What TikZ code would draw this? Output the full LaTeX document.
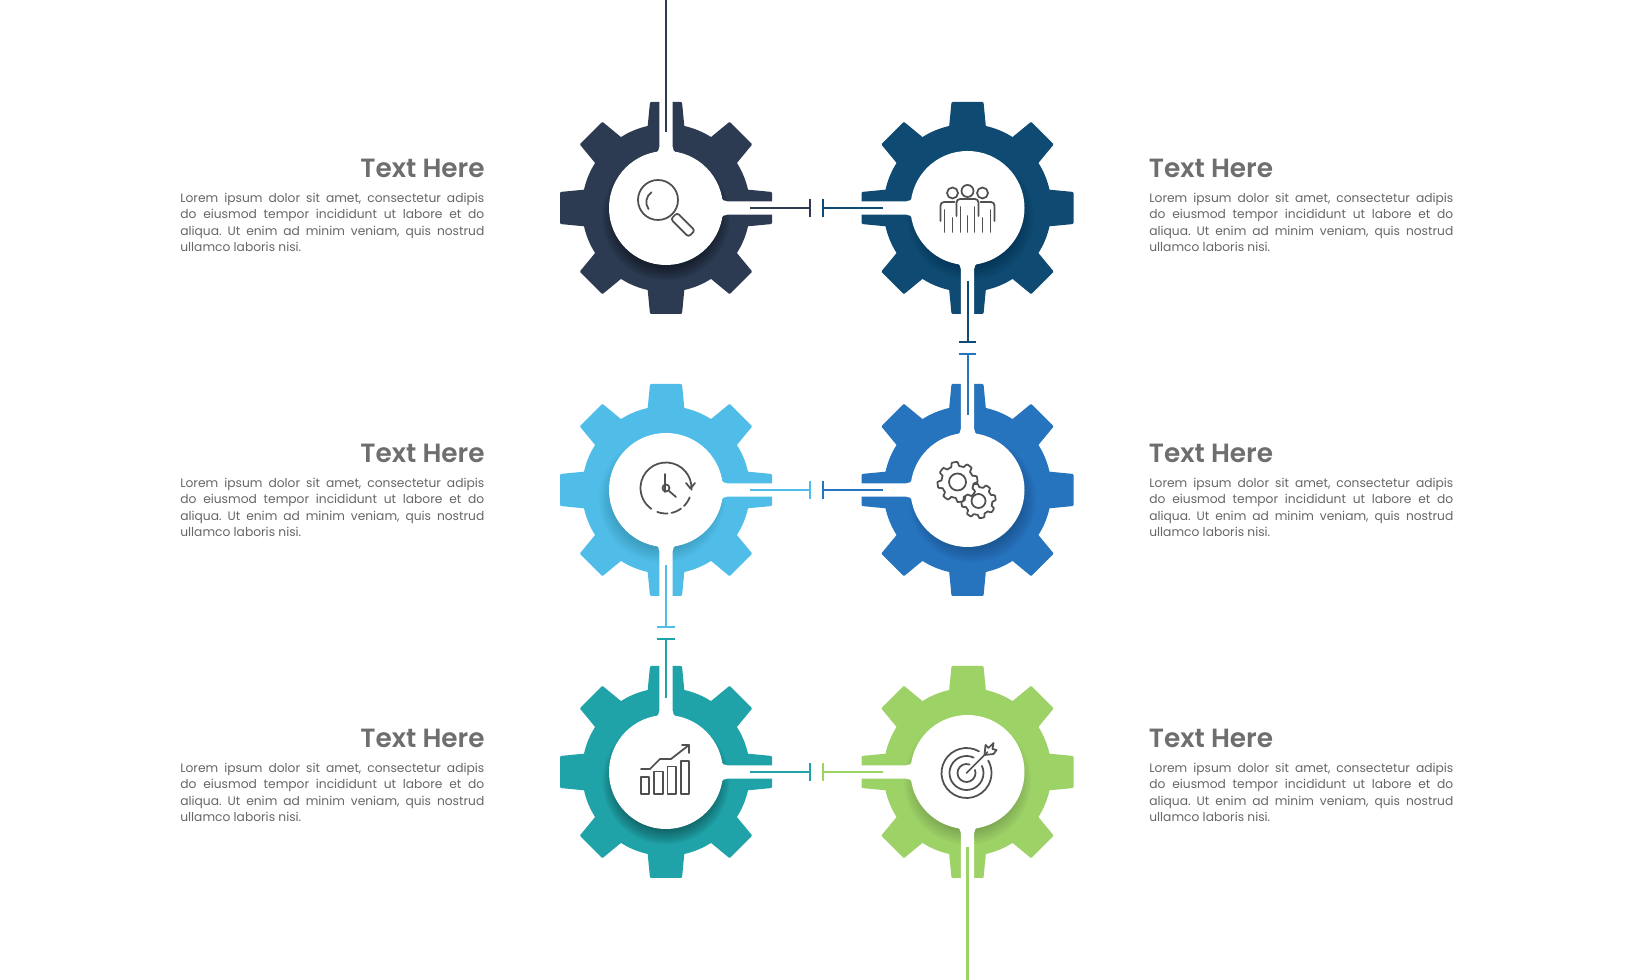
\documentclass[tikz,border=0pt]{standalone}
\usepackage{fontspec}
\setmainfont{Poppins}
\newfontfamily\headfont{Poppins SemiBold}
\usetikzlibrary{arrows.meta}

\definecolor{navy}{HTML}{2C3A52}
\definecolor{petrol}{HTML}{0F4A73}
\definecolor{sky}{HTML}{50BDE9}
\definecolor{royal}{HTML}{2673BE}
\definecolor{teal}{HTML}{20A3A8}
\definecolor{lime}{HTML}{9DD267}
\definecolor{headgray}{HTML}{6E6E6E}
\definecolor{bodygray}{HTML}{666666}
\definecolor{icongray}{HTML}{505050}

\tikzset{
    headtext/.style={inner sep=0pt, text=headgray, font=\fontsize{15}{18}\selectfont\headfont},
    bodytext/.style={inner sep=0pt, text=bodygray, text width=173pt, align=justify,
        font=\fontsize{6.98}{9.24}\selectfont\frenchspacing},
    iconline/.style={draw=icongray, line width=1pt, line cap=round, line join=round},
    link/.style={line width=1.15pt, -{Bar[width=10pt,line width=1.15pt]}},
}

\newcommand{\gearwheel}[6]{
    \foreach \a in {0,45,...,315}
        \fill[#3, shift={(#1,#2)}, rotate=\a, rounded corners=0.6pt]
            (80,-18.5) -- (106,-16) -- (106,16) -- (80,18.5) -- cycle;
    \fill[#3] (#1,#2) circle (84);
    \foreach \r in {50,51.5,...,63.5}
        \fill[black, opacity=#5] (#1+#6,#2-9) circle (\r);
    \foreach \a in {#4}
        \fill[white, shift={(#1,#2)}, rotate=\a]
            (45,-10.5) -- (54.5,-10.5) .. controls (57,-8) and (58,-6.7) .. (61,-6.7) -- (112,-6.7)
            -- (112,6.7) -- (61,6.7) .. controls (58,6.7) and (57,8) .. (54.5,10.5) -- (45,10.5) -- cycle;
    \fill[white] (#1,#2) circle (57);
}

\newcommand{\loremtext}{Lorem ipsum dolor sit amet, consectetur adipis\linebreak
    do eiusmod tempor incididunt ut labore et do\linebreak
    aliqua. Ut enim ad minim veniam, quis nostrud\linebreak
    ullamco laboris nisi.}

\begin{document}
\begin{tikzpicture}[x=0.02cm, y=0.02cm]
    \useasboundingbox (0,0) rectangle (1633,980);
    \fill[white] (0,0) rectangle (1633,980);

    \gearwheel{666}{772}{navy}{90,0}{0.05}{0}
    \gearwheel{967.5}{772}{petrol}{180,270}{0.02}{3}
    \gearwheel{666}{490}{sky}{0,270}{0.015}{-4}
    \gearwheel{967.5}{490}{royal}{90,180}{0.02}{5}
    \gearwheel{666}{208}{teal}{90,0}{0.04}{0}
    \gearwheel{967.5}{208}{lime}{180,270}{0.018}{0}

    \coordinate (startTop) at (666,980);
    \coordinate (startEnd) at (666,848);
    \coordinate (navyRight) at (750,772);
    \coordinate (navyBar) at (811,772);
    \coordinate (petrolLeft) at (883,772);
    \coordinate (petrolBarL) at (822,772);
    \coordinate (petrolDown) at (967.5,699);
    \coordinate (petrolBar) at (967.5,637);
    \coordinate (royalUp) at (967.5,565);
    \coordinate (royalBar) at (967.5,627);
    \coordinate (royalLeft) at (883,490);
    \coordinate (royalBarL) at (822,490);
    \coordinate (skyRight) at (750,490);
    \coordinate (skyBar) at (811,490);
    \coordinate (skyDown) at (666,415);
    \coordinate (skyBarD) at (666,352);
    \coordinate (tealUp) at (666,282);
    \coordinate (tealBarU) at (666,342);
    \coordinate (tealRight) at (750,208);
    \coordinate (tealBar) at (811,208);
    \coordinate (limeLeft) at (883,208);
    \coordinate (limeBar) at (822,208);
    \coordinate (limeDown) at (967.5,133);
    \coordinate (limeEnd) at (967.5,0);

    \draw[navy, line width=1.3pt] (startTop) -- (startEnd);
    \draw[link, navy] (navyRight) -- (navyBar);
    \draw[link, petrol] (petrolLeft) -- (petrolBarL);
    \draw[link, petrol] (petrolDown) -- (petrolBar);
    \draw[link, royal] (royalUp) -- (royalBar);
    \draw[link, royal] (royalLeft) -- (royalBarL);
    \draw[link, sky] (skyRight) -- (skyBar);
    \draw[link, sky] (skyDown) -- (skyBarD);
    \draw[link, teal] (tealUp) -- (tealBarU);
    \draw[link, teal] (tealRight) -- (tealBar);
    \draw[link, lime] (limeLeft) -- (limeBar);
    \draw[lime, line width=1.3pt] (limeDown) -- (limeEnd);

    \begin{scope}[shift={(666,772)}]
        \draw[iconline] (-8,8) circle (20);
        \draw[iconline] (-17.5,-1) arc (215:125:12);
        \draw[iconline, rounded corners=1.5pt, shift={(8,-8)}, rotate=-45] (0,-4.5) rectangle (25,4.5);
    \end{scope}

    \begin{scope}[shift={(967.5,772)}]
        \draw[iconline] (0,17) circle (6);
        \draw[iconline] (-15,15) circle (5.5);
        \draw[iconline] (15,15) circle (5.5);
        \draw[iconline, rounded corners=2pt] (-11,-8) -- (-11,9) -- (11,9) -- (11,-8);
        \draw[iconline] (-7,-24) -- (-7,1);
        \draw[iconline] (7,-24) -- (7,1);
        \draw[iconline] (0,-24) -- (0,-8);
        \draw[iconline, rounded corners=2pt] (-27,-13) -- (-27,6) -- (-13,6);
        \draw[iconline, rounded corners=2pt] (27,-13) -- (27,6) -- (13,6);
        \draw[iconline] (-23,-24) -- (-23,-2);
        \draw[iconline] (23,-24) -- (23,-2);
        \draw[iconline] (-15,-24) -- (-15,-10);
        \draw[iconline] (15,-24) -- (15,-10);
    \end{scope}

    \begin{scope}[shift={(666,490)}]
        \draw[iconline] (0,2) ++(-4:25.5) arc (-4:235:25.5);
        \draw[iconline, dash pattern=on 6pt off 2.2pt] (0,2) ++(250:25.5) arc (250:345:25.5);
        \draw[iconline] (20,7) -- (24.5,1.5) -- (29,7);
        \draw[iconline] (-1,16) -- (-1,-2) (0,2) circle (3.5);
        \draw[iconline] (3,-1) -- (10,-7);
    \end{scope}

    \begin{scope}[shift={(967.5,490)}]
        \draw[iconline, fill=white]
            plot[domain=0:360, samples=161, shift={(11,-11)}] (\x:{15.5+1.7*max(-1,min(1,2.5*sin(8*\x)))}) -- cycle;
        \draw[iconline] (11,-11) circle (7);
        \draw[iconline, fill=white]
            plot[domain=0:360, samples=161, shift={(-10,8)}] (\x:{18+2*max(-1,min(1,2.5*sin(8*\x+22)))}) -- cycle;
        \draw[iconline] (-10,8) circle (8.5);
    \end{scope}

    \begin{scope}[shift={(666,208)}]
        \draw[iconline] (-25,-22) rectangle (-17,-5);
        \draw[iconline] (-12,-22) rectangle (-3,0.5);
        \draw[iconline] (1.5,-22) rectangle (10,5.5);
        \draw[iconline] (15,-22) rectangle (23,11);
        \draw[iconline] (-25,3) -- (-16,3) -- (-6,13) -- (5,13) -- (23,27);
        \draw[iconline] (16,27) -- (23,27) -- (23,19);
    \end{scope}

    \begin{scope}[shift={(967.5,208)}]
        \draw[iconline] (-1,-1) ++(60:25) arc (60:390:25);
        \draw[iconline] (-1,-1) ++(65:17) arc (65:385:17);
        \draw[iconline] (-1,-1) ++(70:9) arc (70:380:9);
        \draw[iconline] (-1,-1) -- (20,20);
        \draw[iconline] (17,17) -- (18,27) -- (21,24) -- (26,29) -- (25,23) -- (29,22) -- (26,18) -- (17,17);
    \end{scope}

    \node[headtext, anchor=base east] (headA) at (485,802) {Text Here};
    \node[bodytext, anchor=north west] (bodyA) at (180,787) {\loremtext};
    \node[headtext, anchor=base west] (headB) at (1148.5,802) {Text Here};
    \node[bodytext, anchor=north west] (bodyB) at (1149,787) {\loremtext};
    \node[headtext, anchor=base east] (headC) at (485,517) {Text Here};
    \node[bodytext, anchor=north west] (bodyC) at (180,502) {\loremtext};
    \node[headtext, anchor=base west] (headD) at (1148.5,517) {Text Here};
    \node[bodytext, anchor=north west] (bodyD) at (1149,502) {\loremtext};
    \node[headtext, anchor=base east] (headE) at (485,232.5) {Text Here};
    \node[bodytext, anchor=north west] (bodyE) at (180,217) {\loremtext};
    \node[headtext, anchor=base west] (headF) at (1148.5,232.5) {Text Here};
    \node[bodytext, anchor=north west] (bodyF) at (1149,217) {\loremtext};
\end{tikzpicture}
\end{document}
